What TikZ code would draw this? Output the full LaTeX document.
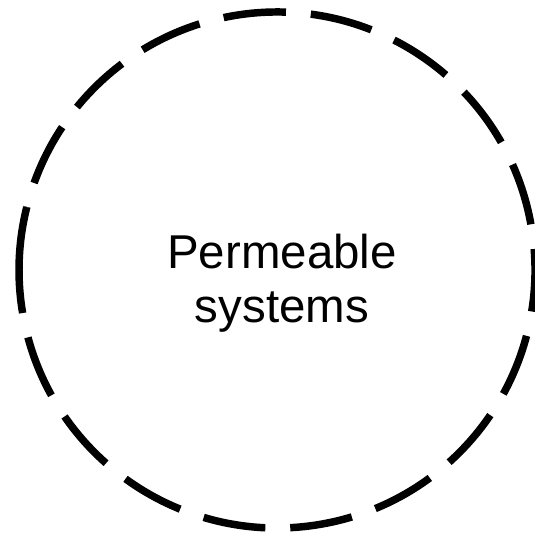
\documentclass[tikz,border=0pt]{standalone}
\usepackage{fontspec}
\setmainfont{Liberation Sans}
\begin{document}
\begin{tikzpicture}[x=0.75pt,y=0.75pt,
        rim/.style={line width=5.6pt},
        rimdash/.style={rim,dash pattern=on 47pt off 18.7pt,dash phase=47pt},
        label/.style={inner sep=0pt,align=center,font=\fontsize{35.6}{40.5}\selectfont}]
    \useasboundingbox (0,0) rectangle (535,533);
    \coordinate (mid) at (277,263);
    % the long dash on the left, then the rest of the ring
    \draw[rim] (mid) ++(165.9:258) arc[start angle=165.9,end angle=189.6,radius=258];
    \draw[rimdash] (mid) ++(189.6:258) arc[start angle=189.6,end angle=525.9,radius=258];
    \node[label] (perm) at (282,250) {Permeable\\systems};
\end{tikzpicture}
\end{document}
